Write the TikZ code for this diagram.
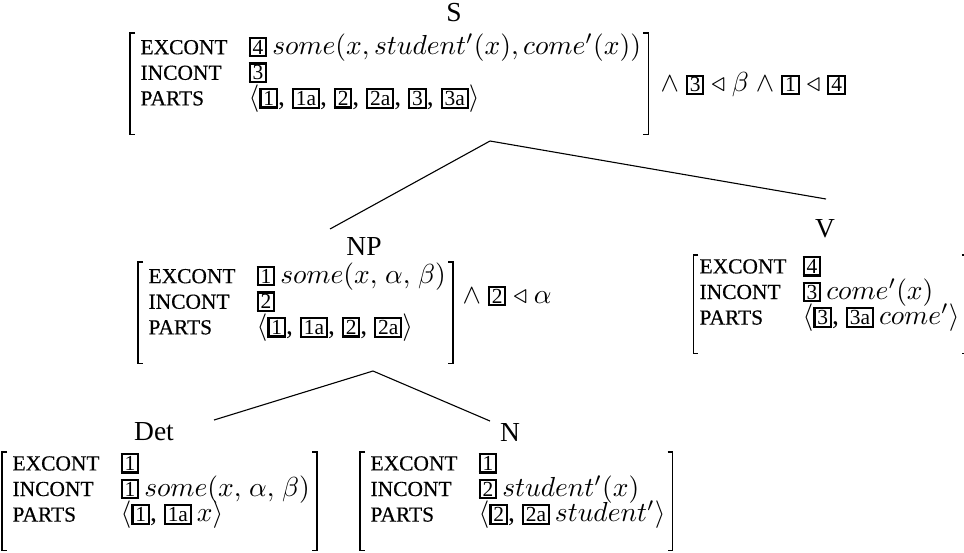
\documentclass[tikz,border=0pt]{standalone}
\usepackage[no-math]{fontspec}
\setmainfont{Liberation Serif}
\newfontfamily\featfont[FakeBold=0.4]{Liberation Serif}

% feature names: caps set small, in a column of fixed width
\newlength\featw
\setlength\featw{39.3pt}
\newcommand\feat[1]{\makebox[\featw][l]{\featfont\fontsize{7.8}{9}\selectfont #1}}
% boxed tags
\newcommand\tagb[1]{{\setlength\fboxsep{0.35pt}\setlength\fboxrule{0.8pt}%
  \fbox{\fontsize{7.8}{9}\selectfont\hspace{0.3pt}#1\hspace{0.3pt}}}}
% gap between a tag and the term after it
\newcommand\tg{\hspace{1.8pt}}
% argument separator inside terms
\newcommand\sep{,\mskip2mu}
% row strut
\newcommand\rs{\rule[-1pt]{0pt}{7.5pt}}
% AVM body font with fixed line spacing
\newcommand\avmfont{\fontsize{10}{9.3}\selectfont\setlength\lineskiplimit{-20pt}}

\tikzset{
  avm/.style={anchor=north west, inner sep=0pt, align=left, font=\avmfont},
  cat/.style={inner sep=0pt, font=\fontsize{10}{12}\selectfont},
  conj/.style={anchor=west, inner sep=0pt, font=\fontsize{10}{12}\selectfont},
  brk/.style={line width=0.45pt},
  edge/.style={line width=0.4pt}
}
% square brackets around an AVM node (optional: gap on the left)
\newcommand\avmbrackets[2][3.6pt]{%
  \draw[brk] ([xshift=-#1+1.8pt]#2.north west) -- ([xshift=-#1]#2.north west)
    -- ([xshift=-#1]#2.south west) -- ([xshift=-#1+1.8pt]#2.south west);
  \draw[brk] ([xshift=0.6pt]#2.north east) -- ([xshift=2.4pt]#2.north east)
    -- ([xshift=2.4pt]#2.south east) -- ([xshift=0.6pt]#2.south east);}

\begin{document}
\begin{tikzpicture}[x=0.3636pt,y=-0.3636pt]
\useasboundingbox (0,0) rectangle (964,552);

% S
\node[cat] (s-cat) at (454,13) {S};
\node[avm] (s-avm) at (140,33) {%
  \rs\feat{EXCONT}\tagb{4}\tg$some(x,student'(x),come'(x))$\\
  \rs\feat{INCONT}\tagb{3}\\
  \rs\feat{PARTS}$\langle$\tagb{1}, \tagb{1a}, \tagb{2}, \tagb{2a}, \tagb{3}, \tagb{3a}$\rangle$\\
  \rs};
\avmbrackets{s-avm}
\node[conj] (s-conj) at (660,85) {$\wedge$ \tagb{3} $\triangleleft$ $\beta$ $\wedge$ \tagb{1} $\triangleleft$ \tagb{4}};

% NP
\node[cat] (np-cat) at (364,246) {NP};
\node[avm] (np-avm) at (148,262) {%
  \rs\feat{EXCONT}\tagb{1}\tg$some(x\sep\alpha\sep\beta)$\\
  \rs\feat{INCONT}\tagb{2}\\
  \rs\feat{PARTS}$\langle$\tagb{1}, \tagb{1a}, \tagb{2}, \tagb{2a}$\rangle$\\
  \rs};
\avmbrackets{np-avm}
\node[conj] (np-conj) at (462,296) {$\wedge$ \tagb{2} $\triangleleft$ $\alpha$};

% V
\node[cat] (v-cat) at (825,229) {V};
\setlength\featw{37.5pt}
\node[avm] (v-avm) at (699,255) {%
  \rs\feat{EXCONT}\tagb{4}\\
  \rs\feat{INCONT}\tagb{3}\tg$come'(x)$\\
  \rs\feat{PARTS}$\langle$\tagb{3}, \tagb{3a}\tg$come'$$\rangle$\\
  \rs};
\avmbrackets[2pt]{v-avm}
\setlength\featw{39.3pt}

% Det
\node[cat] (det-cat) at (154,432) {Det};
\node[avm] (det-avm) at (12,452) {%
  \rs\feat{EXCONT}\tagb{1}\\
  \rs\feat{INCONT}\tagb{1}\tg$some(x\sep\alpha\sep\beta)$\\
  \rs\feat{PARTS}$\langle$\tagb{1}, \tagb{1a}\tg$x$$\rangle$\\
  \rs};
\avmbrackets{det-avm}

% N
\node[cat] (n-cat) at (510,432) {N};
\node[avm] (n-avm) at (370,452) {%
  \rs\feat{EXCONT}\tagb{1}\\
  \rs\feat{INCONT}\tagb{2}\tg$student'(x)$\\
  \rs\feat{PARTS}$\langle$\tagb{2}, \tagb{2a}\tg$student'$$\rangle$\\
  \rs};
\avmbrackets{n-avm}

% tree edges
\coordinate (s-root) at (490,141);
\coordinate (np-top) at (330,229);
\coordinate (v-top) at (826,199);
\coordinate (np-root) at (373,371);
\coordinate (det-top) at (214,420);
\coordinate (n-top) at (490,421);
\draw[edge] (s-root) -- (np-top);
\draw[edge] (s-root) -- (v-top);
\draw[edge] (np-root) -- (det-top);
\draw[edge] (np-root) -- (n-top);
\end{tikzpicture}
\end{document}
